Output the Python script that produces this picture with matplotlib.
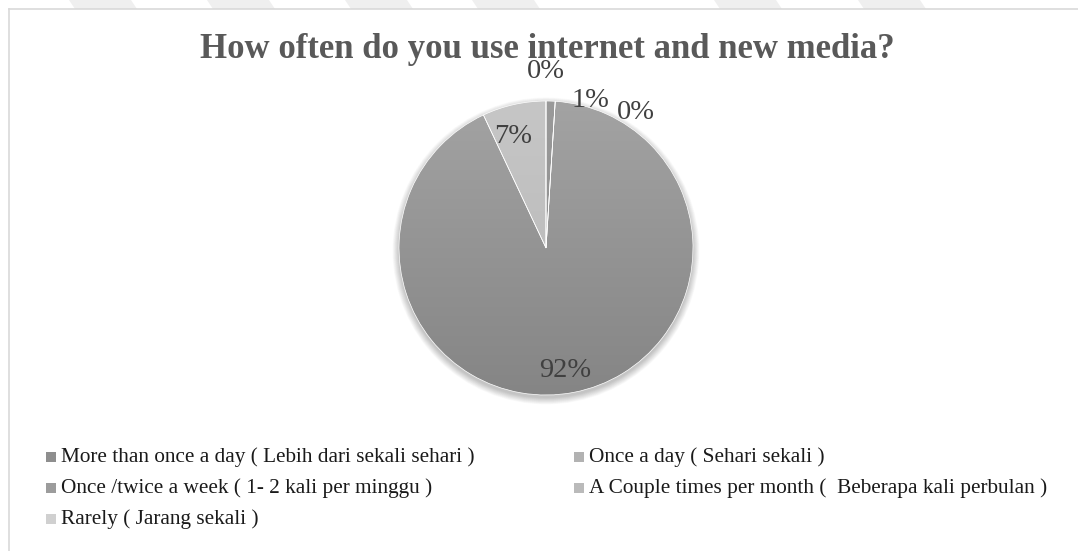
import numpy as np
import matplotlib.pyplot as plt
from matplotlib.colors import LinearSegmentedColormap
from matplotlib.patches import Circle, Polygon, Rectangle
from matplotlib.lines import Line2D

plt.rcParams['font.family'] = ['Liberation Serif', 'DejaVu Serif']

# survey answers
categories = [
    "More than once a day ( Lebih dari sekali sehari )",
    "Once a day ( Sehari sekali )",
    "Once /twice a week ( 1- 2 kali per minggu )",
    "A Couple times per month (  Beberapa kali perbulan )",
    "Rarely ( Jarang sekali )",
]
percent = [1, 0, 92, 7, 0]
title = "How often do you use internet and new media?"

# grey shades (top, bottom of each slice gradient)
shades = [
    ("#9a9a9a", "#8a8a8a"),
    ("#b8b8b8", "#a8a8a8"),
    ("#a3a3a3", "#858585"),
    ("#c6c6c6", "#b6b6b6"),
    ("#d6d6d6", "#c8c8c8"),
]
legend_colors = ["#8e8e8e", "#b2b2b2", "#9c9c9c", "#bababa", "#d0d0d0"]

# label placement: angular shift (deg) and radius per slice
label_shift = [-15, -30, -2, 4, 0]
label_rad = [1.05, 1.11, 0.84, 0.79, 1.20]

W, H = 1078, 551
fig = plt.figure(figsize=(W / 100, H / 100), dpi=100)

# faint watermark bands at the very top
bg = fig.add_axes([0, 0, 1, 1])
bg.set_xlim(0, W)
bg.set_ylim(H, 0)
bg.axis('off')
for x0 in [69, 207, 345, 472, 714, 858]:
    bg.add_patch(Polygon([(x0, 0), (x0 + 62, 0), (x0 + 68, 9), (x0 + 6, 9)],
                         closed=True, color="#efefef", lw=0))
# chart frame
bg.add_line(Line2D([9, W], [9, 9], color="#d9d9d9", lw=1.2))
bg.add_line(Line2D([9, 9], [9, H], color="#d9d9d9", lw=1.2))

fig.text(547 / W, 1 - 50 / H, title, ha='center', va='center',
         fontsize=25, fontweight='bold', color="#595959")

# pie
cx, cy, r = 546, 248, 147
ax = fig.add_axes([(cx - r) / W, (H - cy - r) / H, 2 * r / W, 2 * r / H])
ax.axis('off')

# soft shadow under the pie
for k in range(12):
    ax.add_patch(Circle((0, -0.02), 1.0 + k * 0.004, color='black',
                        alpha=0.018, lw=0, zorder=0, clip_on=False))

wedges, _ = ax.pie(percent, startangle=90, counterclock=False, radius=1,
                   colors=[s[0] for s in shades],
                   wedgeprops=dict(edgecolor='white', linewidth=0.5))

grad = np.linspace(0, 1, 256).reshape(-1, 1)
for w, (top, bot) in zip(wedges, shades):
    w.set_zorder(2)
    cmap = LinearSegmentedColormap.from_list("g", [top, bot])
    im = ax.imshow(grad, extent=(-1, 1, -1, 1), origin='upper', cmap=cmap,
                   aspect='auto', zorder=1)
    im.set_clip_path(w)
    w.set_facecolor('none')

ax.set_xlim(-1, 1)
ax.set_ylim(-1, 1)
ax.set_aspect('equal')

for w, p, sh, rad in zip(wedges, percent, label_shift, label_rad):
    ang = np.deg2rad((w.theta1 + w.theta2) / 2 + sh)
    ax.text(rad * np.cos(ang), rad * np.sin(ang), f"{p}%", ha='center',
            va='center', fontsize=20.5, color="#404040", zorder=5)

# legend, filled column by column
col_x = [46, 574]
row_y = [457, 488, 519]
slots = [(0, 0), (1, 0), (0, 1), (1, 1), (0, 2)]
for name, c, (ci, ri) in zip(categories, legend_colors, slots):
    x, y = col_x[ci], row_y[ri]
    bg.add_patch(Rectangle((x, y - 5), 10, 10, color=c, lw=0))
    bg.text(x + 15, y, name, ha='left', va='center', fontsize=15.3,
            color="#1a1a1a")

fig.savefig("out.png", dpi=100)
